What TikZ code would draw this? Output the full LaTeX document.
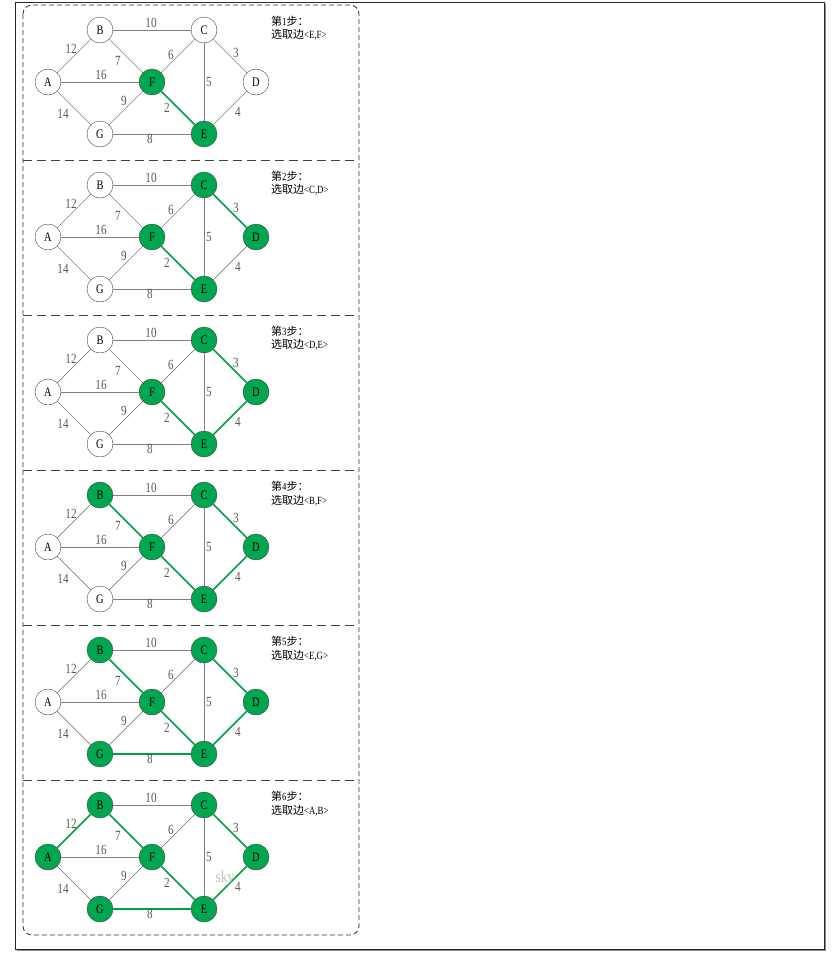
\documentclass[tikz,border=0pt]{standalone}
\usepackage{fontspec}
\setmainfont[FakeStretch=0.8]{Liberation Serif}
\newfontfamily\cjk{Noto Sans CJK SC}
\definecolor{kgreen}{RGB}{0,166,80}
\definecolor{kedge}{RGB}{0,160,70}

\begin{document}
\begin{tikzpicture}[x=1pt,y=-1pt]
	\tikzstyle{node}=[circle,draw=black!75,fill=white,minimum size=26pt,inner sep=0pt,font=\fontsize{13}{13}\selectfont]
	\tikzstyle{edge}=[draw=black!50,line width=0.7pt]
	\tikzstyle{tree}=[draw=kedge,line width=1.6pt]
	\tikzstyle{elabel}=[text=black!65,inner sep=0pt,font=\fontsize{14}{14}\selectfont]
	\tikzstyle{steptext}=[anchor=north west,align=left,inner sep=0pt,font=\fontsize{11}{13.5}\selectfont]

	\useasboundingbox (0,0) rectangle (839,953);
	% frame and panels
	\draw[black!45,line width=2pt] (17,950) -- (825,950) -- (825,4);
	\draw[black!85,line width=1pt] (15,2) rectangle (824,949);
	\draw[black!80,line width=0.8pt,dash pattern=on 5pt off 3pt,rounded corners=9pt] (23,5) rectangle (359,935);
	\foreach \k in {1,...,5}
		\draw[black!75,line width=0.8pt,dash pattern=on 9pt off 5pt] (23,5+155*\k) -- (359,5+155*\k);

	\foreach \p/\u/\v in {1/E/F,2/C/D,3/D/E,4/B/F,5/E/G,6/A/B} {
		\begin{scope}[shift={(0,155*\p-150)}]
			\foreach \n/\nx/\ny/\s in {A/48/77/6,B/100/25/4,C/204/25/2,D/256/77/2,E/204/129/1,F/152/77/1,G/100/129/5} {
				\ifnum\p<\s
					\node [node] (\n\p) at (\nx,\ny) {\n};
				\else
					\node [node,fill=kgreen] (\n\p) at (\nx,\ny) {\n};
				\fi
			}
			\foreach \a/\b/\w/\s/\dx/\dy in {A/B/12/6/-3/7,B/C/10/99/-1/7,A/F/16/99/1/7,A/G/14/99/-11/-6,
				B/F/7/4/-8/-5,G/F/9/99/-2/7,F/C/6/99/-7/1,F/E/2/1/-11/0,C/E/5/99/5/0,C/D/3/2/6/3,D/E/4/3/8/-4,G/E/8/5/-2/-5} {
				\ifnum\p<\s
					\path[edge] (\a\p) -- node[elabel,xshift=\dx pt,yshift=\dy pt] {\w} (\b\p);
				\else
					\path[tree] (\a\p) -- node[elabel,xshift=\dx pt,yshift=\dy pt] {\w} (\b\p);
				\fi
			}
			\node [steptext] (t\p) at (271,11) {{\cjk 第}\p{\cjk 步：}\\{\cjk 选取边}<\u,\v>};
		\end{scope}
	}
	\node [text=black!25,font=\fontsize{17}{17}\selectfont] (mark) at (225,878) {sky};

\end{tikzpicture}
\end{document}
